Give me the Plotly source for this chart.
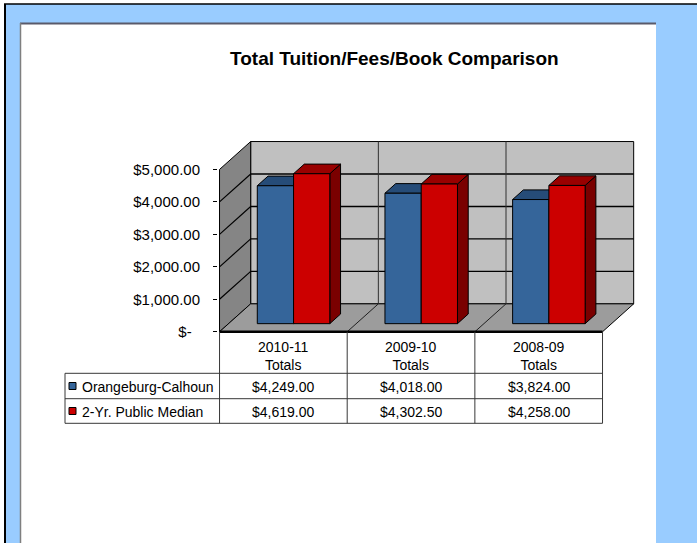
import plotly.graph_objects as go

# ---------------- data ----------------
categories = ["2010-11 Totals", "2009-10 Totals", "2008-09 Totals"]
series_names = ["Orangeburg-Calhoun", "2-Yr. Public Median"]
orangeburg_calhoun = [4249.00, 4018.00, 3824.00]
public_median = [4619.00, 4302.50, 4258.00]
y_tick_values = [0, 1000, 2000, 3000, 4000, 5000]
chart_title = "Total Tuition/Fees/Book Comparison"

series_values = [orangeburg_calhoun, public_median]

# ---------------- style / layout constants ----------------
W, H = 697, 543
ML, MR, MT, MB = 218, 60, 137, 208
X_RANGE = [-0.012, 3.27]
Y_RANGE = [-100, 6000]
DEPTH_X = 0.244      # oblique depth offset in category units
DEPTH_Y = 860        # oblique depth offset in value units
BAR_D0, BAR_D1 = 0.29, 0.635
BAR_LEFT = 0.225
BAR_W = 0.284
WALL_TOP = max(y_tick_values)

FONT = "Liberation Sans, Arial, sans-serif"
FRONT = ["#35659A", "#CC0000"]
TOP = ["#264C78", "#990000"]
SIDE = ["#1E3C60", "#7A0000"]
BACK_WALL = "#C0C0C0"
LEFT_WALL = "#858585"
FLOOR = "#9C9C9C"

n_cat = len(categories)


def proj(x, v, d):
    return x + d * DEPTH_X, v + d * DEPTH_Y


def poly(pts, fill, lc="#000000", lw=1.0):
    xs = [p[0] for p in pts] + [pts[0][0]]
    ys = [p[1] for p in pts] + [pts[0][1]]
    return go.Scatter(x=xs, y=ys, mode="lines", fill="toself", fillcolor=fill,
                      line=dict(color=lc, width=lw), hoverinfo="skip", showlegend=False)


def segs(pairs, color, width):
    xs, ys = [], []
    for (a, b) in pairs:
        xs += [a[0], b[0], None]
        ys += [a[1], b[1], None]
    return go.Scatter(x=xs, y=ys, mode="lines", line=dict(color=color, width=width),
                      hoverinfo="skip", showlegend=False)


fig = go.Figure()

# walls and floor
fig.add_trace(poly([proj(0, 0, 1), proj(n_cat, 0, 1), proj(n_cat, WALL_TOP, 1), proj(0, WALL_TOP, 1)], BACK_WALL))
fig.add_trace(poly([proj(0, 0, 0), proj(0, 0, 1), proj(0, WALL_TOP, 1), proj(0, WALL_TOP, 0)], LEFT_WALL))
fig.add_trace(poly([proj(0, 0, 0), proj(n_cat, 0, 0), proj(n_cat, 0, 1), proj(0, 0, 1)], FLOOR))

# gridlines
grid_vals = [v for v in y_tick_values if 0 < v < WALL_TOP]
fig.add_trace(segs([(proj(0, v, 1), proj(n_cat, v, 1)) for v in grid_vals], "#000000", 1.4))
fig.add_trace(segs([(proj(0, v, 0), proj(0, v, 1)) for v in grid_vals], "#000000", 1.2))
fig.add_trace(segs([(proj(i, 0, 1), proj(i, WALL_TOP, 1)) for i in range(1, n_cat)], "#303030", 1.0))
fig.add_trace(segs([(proj(i, 0, 0), proj(i, 0, 1)) for i in range(1, n_cat)], "#202020", 1.0))
fig.add_trace(segs([(proj(0, 0, 0), proj(n_cat, 0, 0))], "#000000", 2.6))

# 3D bars
for i in range(n_cat):
    for s in range(len(series_values)):
        v = series_values[s][i]
        x0 = i + BAR_LEFT + s * BAR_W
        x1 = x0 + BAR_W
        fig.add_trace(poly([proj(x1, 0, BAR_D0), proj(x1, 0, BAR_D1), proj(x1, v, BAR_D1), proj(x1, v, BAR_D0)], SIDE[s]))
        fig.add_trace(poly([proj(x0, v, BAR_D0), proj(x1, v, BAR_D0), proj(x1, v, BAR_D1), proj(x0, v, BAR_D1)], TOP[s]))
        fig.add_trace(poly([proj(x0, 0, BAR_D0), proj(x1, 0, BAR_D0), proj(x1, v, BAR_D0), proj(x0, v, BAR_D0)], FRONT[s]))


# ---------------- helpers for layout positions ----------------
def px(X):
    return (X - ML) / (W - ML - MR)


def py(Y):
    return (H - MB - Y) / (H - MT - MB)


def xdata_to_paper(x):
    return (x - X_RANGE[0]) / (X_RANGE[1] - X_RANGE[0])


def ydata_to_paper(v):
    return (v - Y_RANGE[0]) / (Y_RANGE[1] - Y_RANGE[0])


shapes = []
# page decoration
shapes.append(dict(type="rect", xref="paper", yref="paper", x0=px(5), x1=px(W + 5), y0=py(H + 5), y1=py(4),
                   fillcolor="#99CCFF", line=dict(width=0), layer="below"))
shapes.append(dict(type="rect", xref="paper", yref="paper", x0=px(20), x1=px(656), y0=py(H + 5), y1=py(23),
                   fillcolor="#FFFFFF", line=dict(width=0), layer="below"))
shapes.append(dict(type="line", xref="paper", yref="paper", x0=px(4), x1=px(W + 2), y0=py(4), y1=py(4),
                   line=dict(color="#000000", width=1.6)))
shapes.append(dict(type="line", xref="paper", yref="paper", x0=px(5), x1=px(5), y0=py(4), y1=py(H + 2),
                   line=dict(color="#000000", width=2)))
shapes.append(dict(type="line", xref="paper", yref="paper", x0=px(20), x1=px(656), y0=py(23.5), y1=py(23.5),
                   line=dict(color="#5A5A6A", width=2)))
shapes.append(dict(type="line", xref="paper", yref="paper", x0=px(20.5), x1=px(20.5), y0=py(23), y1=py(H + 2),
                   line=dict(color="#7F7F7F", width=1.5)))

# data table
T_LEFT = 65
HDR_BOTTOM = 373.3
ROW_BOTTOMS = [398.7, 423.3]
table_line = dict(color="#383838", width=1)
y_hdr_top = ydata_to_paper(0)
y_tab_bottom = py(ROW_BOTTOMS[-1])
for i in range(n_cat + 1):
    xp = xdata_to_paper(i)
    shapes.append(dict(type="line", xref="paper", yref="paper", x0=xp, x1=xp, y0=y_hdr_top, y1=y_tab_bottom,
                       line=table_line))
shapes.append(dict(type="line", xref="paper", yref="paper", x0=px(T_LEFT), x1=px(T_LEFT), y0=py(HDR_BOTTOM),
                   y1=y_tab_bottom, line=table_line))
for yb in [HDR_BOTTOM] + ROW_BOTTOMS:
    shapes.append(dict(type="line", xref="paper", yref="paper", x0=px(T_LEFT), x1=xdata_to_paper(n_cat),
                       y0=py(yb), y1=py(yb), line=table_line))

annotations = []
annotations.append(dict(text=chart_title, xref="paper", yref="paper", x=px(394), y=py(58),
                        xanchor="center", yanchor="middle", showarrow=False,
                        font=dict(family=FONT, size=19, color="#000000", weight="bold")))

for i, c in enumerate(categories):
    annotations.append(dict(text=c.replace(" ", "<br>"), xref="x", yref="paper", x=i + 0.5,
                            y=py((331.7 + HDR_BOTTOM) / 2 + 3), xanchor="center", yanchor="middle",
                            showarrow=False, font=dict(family=FONT, size=14, color="#000000")))

row_tops = [HDR_BOTTOM] + ROW_BOTTOMS[:-1]
for s, name in enumerate(series_names):
    yc = (row_tops[s] + ROW_BOTTOMS[s]) / 2
    shapes.append(dict(type="rect", xref="paper", yref="paper", x0=px(69), x1=px(76), y0=py(yc - 3.5),
                       y1=py(yc + 3.5), fillcolor=FRONT[s], line=dict(color="#000000", width=1)))
    annotations.append(dict(text=name, xref="paper", yref="paper", x=px(79.5), y=py(yc + 0.5),
                            xanchor="left", yanchor="middle", showarrow=False,
                            font=dict(family=FONT, size=14, color="#000000")))
    for i in range(n_cat):
        annotations.append(dict(text=f"${series_values[s][i]:,.2f}", xref="x", yref="paper", x=i + 0.5,
                                y=py(yc + 0.5), xanchor="center", yanchor="middle", showarrow=False,
                                font=dict(family=FONT, size=14, color="#000000")))

tick_text = [f"${v:,.2f}" if v else "$-\u00a0\u00a0" for v in y_tick_values]

fig.update_layout(
    width=W, height=H,
    margin=dict(l=ML, r=MR, t=MT, b=MB, pad=0),
    paper_bgcolor="#FFFFFF",
    plot_bgcolor="rgba(0,0,0,0)",
    showlegend=False,
    shapes=shapes,
    annotations=annotations,
    xaxis=dict(range=X_RANGE, visible=False, fixedrange=True),
    yaxis=dict(range=Y_RANGE, tickvals=y_tick_values, ticktext=tick_text, showgrid=False,
               zeroline=False, showline=False, ticks="outside", ticklen=4, tickcolor="#000000",
               tickwidth=1, ticklabelstandoff=10, fixedrange=True,
               tickfont=dict(family=FONT, size=15, color="#000000")),
)

fig.write_html("out.html", config={"displayModeBar": False},
               post_script="document.body.style.margin='0';document.body.style.overflow='hidden';")
